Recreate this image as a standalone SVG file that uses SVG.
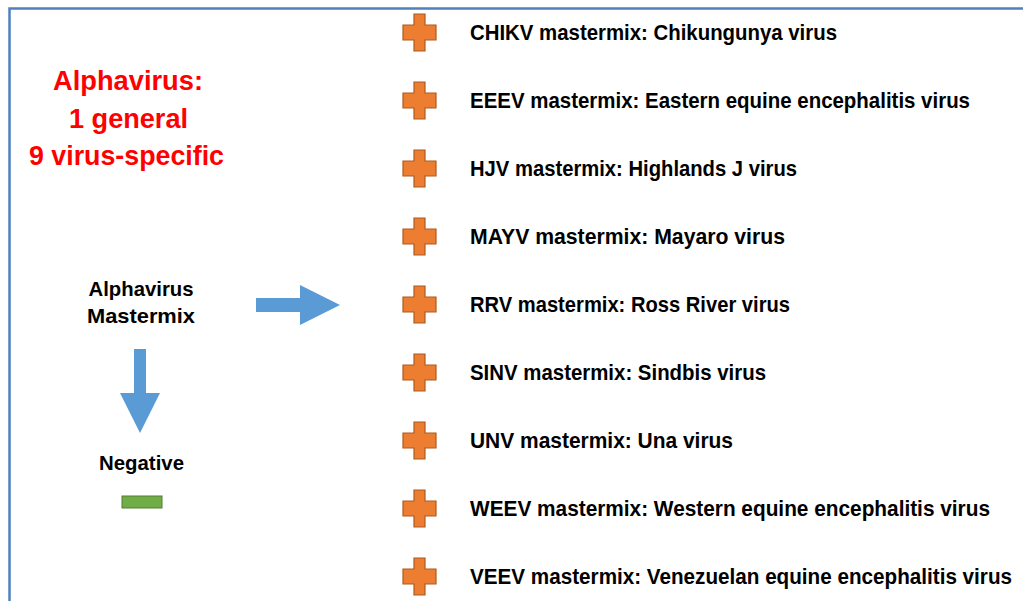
<svg xmlns="http://www.w3.org/2000/svg" width="1023" height="601" viewBox="0 0 1023 601">
<defs>
<style>
.frame{fill:none;stroke:#4f81bd;stroke-width:2.5}
.plus{fill:#ed7d31;stroke:#ae5a21;stroke-width:1.2}
.arrow{fill:#5b9bd5;stroke:none}
.lbl{font-family:"Liberation Sans",Arial,sans-serif;font-weight:bold;fill:#000;font-size:22px}
.red{font-family:"Liberation Sans",Arial,sans-serif;font-weight:bold;fill:#ff0000;font-size:27px;text-anchor:middle}
.blk{font-family:"Liberation Sans",Arial,sans-serif;font-weight:bold;fill:#000;font-size:21px;text-anchor:middle}
</style>
<path id="plusShape" class="plus" d="M-5.5,-18.5 H5.5 V-7.5 H16.5 V7.5 H5.5 V18.5 H-5.5 V7.5 H-16.5 V-7.5 H-5.5 Z"/>
</defs>
<rect width="1023" height="601" fill="#fff"/>
<path class="frame" d="M9.5,601 V8.5 H1023"/>

<g id="title">
<text class="red" x="128" y="90" textLength="150" lengthAdjust="spacingAndGlyphs">Alphavirus:</text>
<text class="red" x="128.5" y="128" textLength="119" lengthAdjust="spacingAndGlyphs">1 general</text>
<text class="red" x="126.5" y="165" textLength="195" lengthAdjust="spacingAndGlyphs">9 virus-specific</text>
</g>

<g id="mastermix">
<text class="blk" x="141" y="296" textLength="105" lengthAdjust="spacingAndGlyphs">Alphavirus</text>
<text class="blk" x="141" y="323" textLength="108" lengthAdjust="spacingAndGlyphs">Mastermix</text>
</g>

<g id="connectors">
<polygon class="arrow" points="256,298 300,298 300,285 340,305 300,325 300,312 256,312"/>
<polygon class="arrow" points="134,349 146,349 146,393 160,393 140,433 120,393 134,393"/>
</g>

<g id="negative">
<text class="blk" x="141.5" y="470" textLength="85" lengthAdjust="spacingAndGlyphs">Negative</text>
<rect x="122" y="496" width="40" height="12" fill="#70ad47" stroke="#507e32" stroke-width="1"/>
</g>

<g id="chikv"><use href="#plusShape" x="419.5" y="32.5"/><text class="lbl" x="470" y="40" textLength="367" lengthAdjust="spacingAndGlyphs">CHIKV mastermix: Chikungunya virus</text></g>
<g id="eeev"><use href="#plusShape" x="419.5" y="100.5"/><text class="lbl" x="470" y="108" textLength="500" lengthAdjust="spacingAndGlyphs">EEEV mastermix: Eastern equine encephalitis virus</text></g>
<g id="hjv"><use href="#plusShape" x="419.5" y="168.5"/><text class="lbl" x="470" y="176" textLength="327" lengthAdjust="spacingAndGlyphs">HJV mastermix: Highlands J virus</text></g>
<g id="mayv"><use href="#plusShape" x="419.5" y="236.5"/><text class="lbl" x="470" y="244" textLength="315" lengthAdjust="spacingAndGlyphs">MAYV mastermix: Mayaro virus</text></g>
<g id="rrv"><use href="#plusShape" x="419.5" y="304.5"/><text class="lbl" x="470" y="312" textLength="320" lengthAdjust="spacingAndGlyphs">RRV mastermix: Ross River virus</text></g>
<g id="sinv"><use href="#plusShape" x="419.5" y="372.5"/><text class="lbl" x="470" y="380" textLength="296" lengthAdjust="spacingAndGlyphs">SINV mastermix: Sindbis virus</text></g>
<g id="unv"><use href="#plusShape" x="419.5" y="440.5"/><text class="lbl" x="470" y="448" textLength="263" lengthAdjust="spacingAndGlyphs">UNV mastermix: Una virus</text></g>
<g id="weev"><use href="#plusShape" x="419.5" y="508.5"/><text class="lbl" x="470" y="516" textLength="520" lengthAdjust="spacingAndGlyphs">WEEV mastermix: Western equine encephalitis virus</text></g>
<g id="veev"><use href="#plusShape" x="419.5" y="576.5"/><text class="lbl" x="470" y="584" textLength="542" lengthAdjust="spacingAndGlyphs">VEEV mastermix: Venezuelan equine encephalitis virus</text></g>
</svg>
